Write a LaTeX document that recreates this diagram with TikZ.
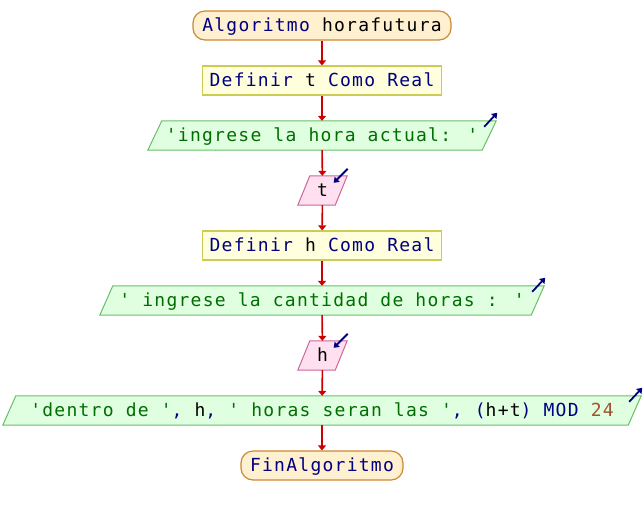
\documentclass[tikz,border=0pt]{standalone}
\usepackage{fontspec}
\newfontfamily\codefont[LetterSpace=7]{DejaVu Sans Mono}
\usetikzlibrary{arrows.meta,backgrounds}
\definecolor{kwc}{RGB}{0,0,128}
\definecolor{strc}{RGB}{0,110,0}
\definecolor{numc}{RGB}{160,82,45}
\definecolor{flowc}{RGB}{204,0,0}
\definecolor{termfill}{RGB}{255,240,208}
\definecolor{termdraw}{RGB}{204,136,51}
\definecolor{deffill}{RGB}{255,255,221}
\definecolor{defdraw}{RGB}{204,204,85}
\definecolor{outfill}{RGB}{224,255,224}
\definecolor{outdraw}{RGB}{102,190,102}
\definecolor{infill}{RGB}{255,224,240}
\definecolor{indraw}{RGB}{204,102,153}
\newcommand{\kw}[1]{\textcolor{kwc}{#1}}
\newcommand{\st}[1]{\textcolor{strc}{#1}}
\newcommand{\nm}[1]{\textcolor{numc}{#1}}
\tikzset{
  base/.style={minimum height=29pt, inner sep=0pt, text height=14.25pt, text depth=2.25pt},
  termbox/.style={base, draw=termdraw, fill=termfill, line width=1.2pt, rounded corners=12pt},
  defbox/.style={base, draw=defdraw, fill=deffill, line width=1.2pt},
  iobox/.style={base},
  outshape/.style={draw=outdraw, fill=outfill, line width=1pt},
  inshape/.style={draw=indraw, fill=infill, line width=1pt},
  flow/.style={draw=flowc, line width=1.6pt, -{Triangle[length=5pt,width=8pt]}},
  icon/.style={draw=kwc, line width=1.8pt, -{Triangle[length=5pt,width=7pt]}}
}
\begin{document}
\begin{tikzpicture}[x=1pt,y=1pt,font=\codefont\fontsize{18}{20}\selectfont]
\useasboundingbox (0,0) rectangle (644,-515);
\node[termbox, minimum width=258pt] (s) at (322,-25.5) {\kw{Algoritmo} horafutura};
\node[defbox, minimum width=239pt] (d1) at (322,-80.5) {\kw{Definir} t \kw{Como Real}};
\node[iobox, minimum width=334pt] (o1) at (322,-135.5) {\st{'ingrese la hora actual: '}};
\node[iobox, minimum width=37pt] (i1) at (322.5,-190.5) {t};
\node[defbox, minimum width=239pt] (d2) at (322,-245.5) {\kw{Definir} h \kw{Como Real}};
\node[iobox, minimum width=431pt] (o2) at (322,-300.5) {\st{' ingrese la cantidad de horas : '}};
\node[iobox, minimum width=37pt] (i2) at (322.5,-355.5) {h};
\node[iobox, minimum width=625pt] (o3) at (322,-410.5) {\st{'dentro de '}\kw{,} h\kw{,} \st{' horas seran las '}\kw{, (}h+t\kw{) MOD} \nm{24}};
\node[termbox, minimum width=162pt] (e) at (322,-465.5) {\kw{FinAlgoritmo}};
\begin{scope}[on background layer]
\foreach \n/\o in {o1/7,o2/6.5,o3/6.5}
  \draw[outshape] ([xshift=-\o pt]\n.south west) -- ([xshift=\o pt]\n.north west) -- ([xshift=\o pt]\n.north east) -- ([xshift=-\o pt]\n.south east) -- cycle;
\foreach \n in {i1,i2}
  \draw[inshape] ([xshift=-6pt]\n.south west) -- ([xshift=6pt]\n.north west) -- ([xshift=6pt]\n.north east) -- ([xshift=-6pt]\n.south east) -- cycle;
\end{scope}
\foreach \n/\o in {o1/7,o2/6.5,o3/6.5}
  \draw[icon] ([shift={(\o pt-12pt,-6pt)}]\n.north east) -- ([shift={(\o pt+1pt,8pt)}]\n.north east);
\foreach \n in {i1,i2}
  \draw[icon] ([shift={(6.5pt,7pt)}]\n.north east) -- ([shift={(-7.5pt,-7pt)}]\n.north east);
\draw[flow] (s) -- (d1);
\draw[flow] (d1) -- (o1);
\draw[flow] (o1) -- (i1);
\draw[flow] (i1) -- (d2);
\draw[flow] (d2) -- (o2);
\draw[flow] (o2) -- (i2);
\draw[flow] (i2) -- (o3);
\draw[flow] (o3) -- (e);
\end{tikzpicture}
\end{document}
